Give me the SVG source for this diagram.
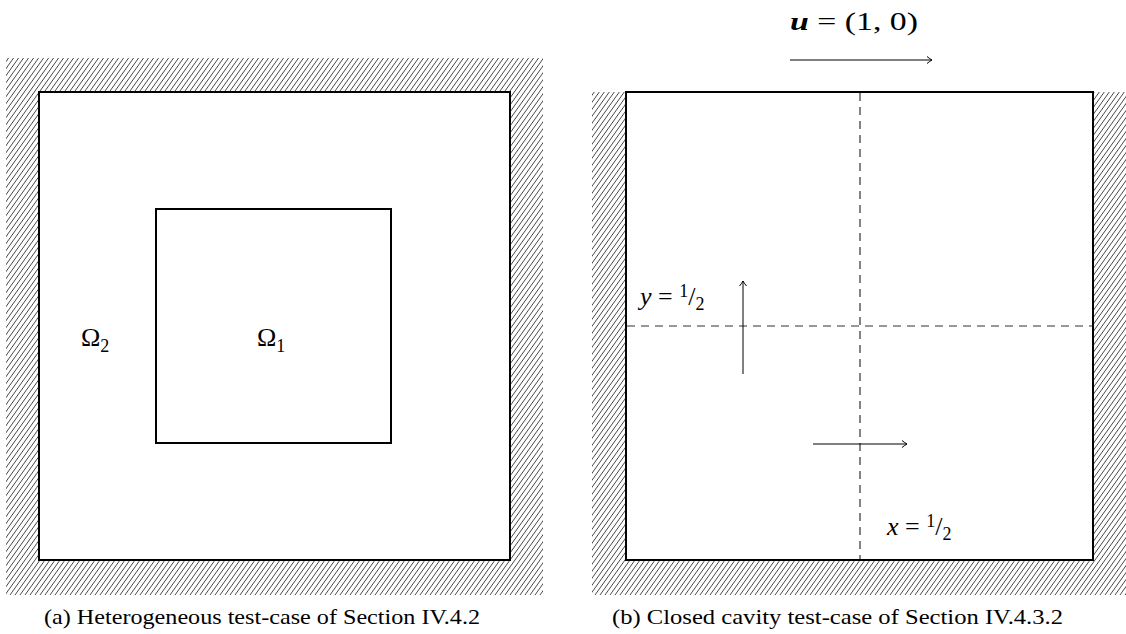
<svg xmlns="http://www.w3.org/2000/svg" width="1126" height="634" viewBox="0 0 1126 634">
<defs>
<pattern id="hatch" patternUnits="userSpaceOnUse" width="5" height="7">
<path d="M0,7 L5,0 M-1,1.4 L1,-1.4 M4,8.4 L6,5.6" stroke="#333" stroke-width="0.9" fill="none"/>
</pattern>
<marker id="arr" markerWidth="10" markerHeight="10" refX="7" refY="5" orient="auto" markerUnits="userSpaceOnUse">
<path d="M2,1.5 Q5,4 7,5 Q5,6 2,8.5" fill="none" stroke="#000" stroke-width="1"/>
</marker>
<style>
.frame{fill:#fff;stroke:#000;stroke-width:2}
.dash{stroke:#333;stroke-width:1.2;stroke-dasharray:8,6;fill:none}
.arrow{stroke:#000;stroke-width:1;fill:none;marker-end:url(#arr)}
.t{font-family:"Liberation Serif","DejaVu Serif",serif;font-size:26px;fill:#000}
.cap{font-family:"Liberation Serif","DejaVu Serif",serif;font-size:22px;fill:#000}
</style>
</defs>
<g id="panel-a">
<rect x="6" y="58" width="537" height="537" fill="url(#hatch)"/>
<rect id="outer-a" class="frame" x="39" y="92" width="471" height="468"/>
<rect id="omega1-box" class="frame" x="156" y="209" width="235" height="234"/>
<text id="omega2" class="t" x="81" y="346">Ω<tspan font-size="18" dy="6">2</tspan></text>
<text id="omega1" class="t" x="257" y="346">Ω<tspan font-size="18" dy="6">1</tspan></text>
</g>
<g id="panel-b">
<rect x="592" y="92" width="534" height="503" fill="url(#hatch)"/>
<rect id="cavity" class="frame" x="626" y="92" width="467" height="468"/>
</g>
<g id="connectors">
<line class="dash" x1="860" y1="93" x2="860" y2="559"/>
<line class="dash" x1="627" y1="326" x2="1092" y2="326"/>
<line class="arrow" x1="790" y1="60" x2="932" y2="60"/>
<line class="arrow" x1="743" y1="374" x2="743" y2="281"/>
<line class="arrow" x1="813" y1="444" x2="907" y2="444"/>
</g>
<g id="labels">
<text class="t" x="790" y="30" textLength="128" lengthAdjust="spacingAndGlyphs"><tspan font-weight="bold" font-style="italic">u</tspan> = (1, 0)</text>
<text class="t" x="640" y="305"><tspan font-style="italic">y</tspan> = <tspan font-size="18" dy="-8">1</tspan><tspan dy="8">/</tspan><tspan font-size="18" dy="5">2</tspan></text>
<text class="t" x="887" y="535"><tspan font-style="italic">x</tspan> = <tspan font-size="18" dy="-8">1</tspan><tspan dy="8">/</tspan><tspan font-size="18" dy="5">2</tspan></text>
</g>
<g id="captions">
<text class="cap" x="44" y="624" textLength="436" lengthAdjust="spacingAndGlyphs">(a) Heterogeneous test-case of Section IV.4.2</text>
<text class="cap" x="612" y="624" textLength="451" lengthAdjust="spacingAndGlyphs">(b) Closed cavity test-case of Section IV.4.3.2</text>
</g>
</svg>
